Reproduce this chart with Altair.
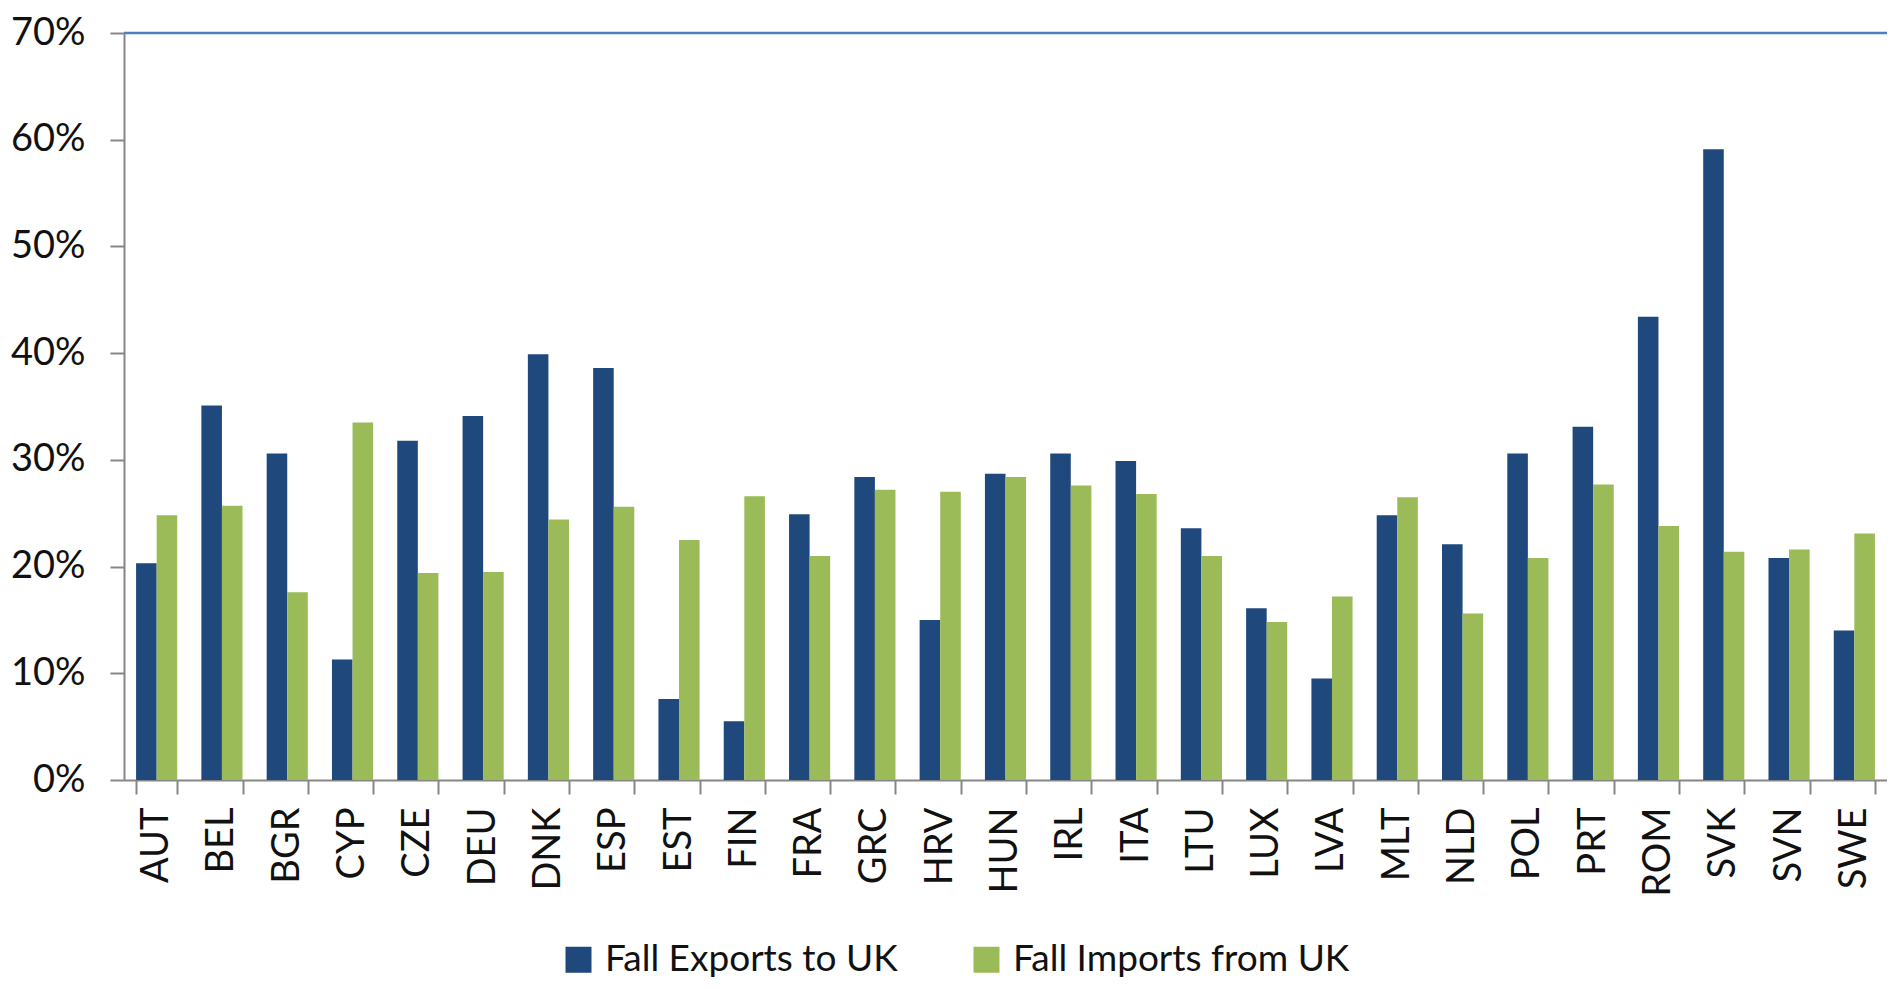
import altair as alt
import pandas as pd

countries = ["AUT", "BEL", "BGR", "CYP", "CZE", "DEU", "DNK", "ESP", "EST", "FIN",
             "FRA", "GRC", "HRV", "HUN", "IRL", "ITA", "LTU", "LUX", "LVA", "MLT",
             "NLD", "POL", "PRT", "ROM", "SVK", "SVN", "SWE"]
exports_fall = [20.3, 35.1, 30.6, 11.3, 31.8, 34.1, 39.9, 38.6, 7.6, 5.5,
                24.9, 28.4, 15.0, 28.7, 30.6, 29.9, 23.6, 16.1, 9.5, 24.8,
                22.1, 30.6, 33.1, 43.4, 59.1, 20.8, 14.0]
imports_fall = [24.8, 25.7, 17.6, 33.5, 19.4, 19.5, 24.4, 25.6, 22.5, 26.6,
                21.0, 27.2, 27.0, 28.4, 27.6, 26.8, 21.0, 14.8, 17.2, 26.5,
                15.6, 20.8, 27.7, 23.8, 21.4, 21.6, 23.1]
series_names = ["Fall Exports to UK", "Fall Imports from UK"]
series_colors = ["#1F497D", "#9BBB59"]
y_ticks = [0, 0.1, 0.2, 0.3, 0.4, 0.5, 0.6, 0.7]

rows = []
for c, e, i in zip(countries, exports_fall, imports_fall):
    rows.append({"country": c, "series": series_names[0], "value": e / 100})
    rows.append({"country": c, "series": series_names[1], "value": i / 100})
df = pd.DataFrame(rows)

FONT = "Lato"
AXIS_COLOR = "#868686"

bars = alt.Chart(df).mark_bar().encode(
    x=alt.X("country:N", sort=countries,
            scale=alt.Scale(paddingInner=0.37, paddingOuter=0.185),
            axis=alt.Axis(title=None, labelAngle=270, tickBand="extent",
                          labelFont=FONT, labelFontSize=38, labelColor="#111111",
                          domainColor=AXIS_COLOR, domainWidth=2,
                          tickColor=AXIS_COLOR, tickWidth=2, tickSize=14,
                          labelPadding=13)),
    xOffset=alt.XOffset("series:N", sort=series_names,
                        scale=alt.Scale(paddingInner=0, paddingOuter=0)),
    y=alt.Y("value:Q", scale=alt.Scale(domain=[0, 0.7], nice=False),
            axis=alt.Axis(title=None, format=".0%", values=y_ticks, grid=False,
                          labelFont=FONT, labelFontSize=38, labelColor="#111111",
                          domainColor=AXIS_COLOR, domainWidth=2,
                          tickColor=AXIS_COLOR, tickWidth=2, tickSize=14,
                          labelPadding=25)),
    color=alt.Color("series:N", sort=series_names,
                    scale=alt.Scale(domain=series_names, range=series_colors),
                    legend=alt.Legend(title=None, orient="none", legendX=436, legendY=908,
                                      direction="horizontal", symbolType="square",
                                      symbolSize=676, symbolStrokeWidth=0,
                                      labelFont=FONT, labelFontSize=37, labelLimit=0,
                                      labelColor="#111111", labelOffset=8,
                                      columnPadding=70)),
)

top_line = alt.Chart(pd.DataFrame({"y": [0.7]})).mark_rule(
    color="#4F81BD", strokeWidth=2.5
).encode(y=alt.Y("y:Q"))

chart = alt.layer(bars, top_line).properties(
    width=1763, height=747,
    padding={"left": 116, "top": 25, "right": 0, "bottom": 201},
    autosize=alt.AutoSizeParams(type="none"),
    background="white",
).configure_view(stroke="#C6D3E3", strokeWidth=1)

chart.save("out.html", embed_options={"renderer": "svg", "actions": False})
